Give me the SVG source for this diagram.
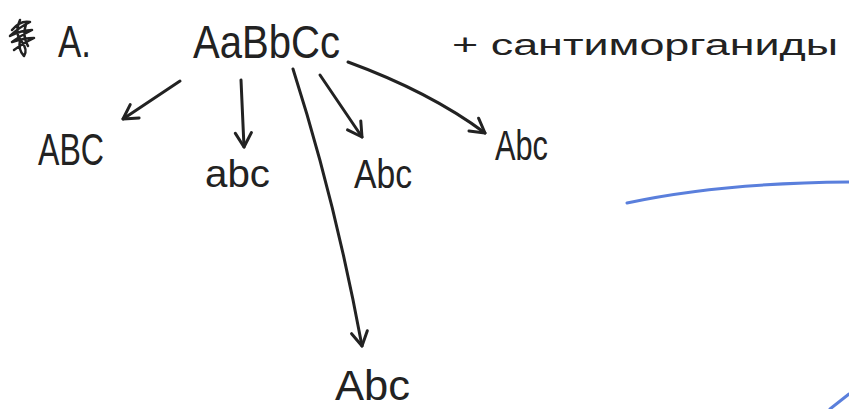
<svg xmlns="http://www.w3.org/2000/svg" width="849" height="409" viewBox="0 0 849 409">
<style>
.t{font-family:"Liberation Sans","DejaVu Sans",sans-serif;fill:#222;}
.c{fill:none;stroke:#222;stroke-width:3;stroke-linecap:round;stroke-linejoin:round;}
.b{fill:none;stroke:#5a7fdc;stroke-width:3;stroke-linecap:round;}
</style>
<defs>
<marker id="ah" viewBox="0 0 20 20" refX="18" refY="10" markerWidth="20" markerHeight="20" markerUnits="userSpaceOnUse" orient="auto">
<path d="M4 2 L18 10 L4 18" fill="none" stroke="#222" stroke-width="3" stroke-linecap="round" stroke-linejoin="round"/>
</marker>
</defs>
<rect width="849" height="409" fill="#fff"/>
<g id="title">
<path class="c" style="stroke-width:2.5" d="M12 30 Q20 20 30 22 Q18 28 10 36 Q22 30 32 30 Q20 36 12 42 Q24 38 34 38 Q22 44 14 50 M20 20 Q14 34 22 42 Q28 50 24 56 Q18 50 20 40 M26 24 Q22 36 28 46"/>
<text class="t" x="58" y="57" font-size="44" textLength="33" lengthAdjust="spacingAndGlyphs">A.</text>
</g>
<g id="root">
<text class="t" x="193" y="58" font-size="46" textLength="147" lengthAdjust="spacingAndGlyphs">AaBbCc</text>
</g>
<g id="note">
<text class="t" x="452" y="55" font-size="30" textLength="386" lengthAdjust="spacingAndGlyphs">+ сантиморганиды</text>
</g>
<g id="n1"><text class="t" x="38" y="165" font-size="44" textLength="66" lengthAdjust="spacingAndGlyphs">ABC</text></g>
<g id="n2"><text class="t" x="205" y="187" font-size="38" textLength="65" lengthAdjust="spacingAndGlyphs">abc</text></g>
<g id="n3"><text class="t" x="354" y="188" font-size="40" textLength="58" lengthAdjust="spacingAndGlyphs">Abc</text></g>
<g id="n4"><text class="t" x="495" y="160" font-size="42" textLength="53" lengthAdjust="spacingAndGlyphs">Abc</text></g>
<g id="n5"><text class="t" x="335" y="400" font-size="42" textLength="75" lengthAdjust="spacingAndGlyphs">Abc</text></g>
<g id="connectors">
<path class="c" d="M180 81 L123 119" marker-end="url(#ah)"/>
<path class="c" d="M241 80 L244 147" marker-end="url(#ah)"/>
<path class="c" d="M293 69 Q335 200 362 346" marker-end="url(#ah)"/>
<path class="c" d="M320 75 L362 137" marker-end="url(#ah)"/>
<path class="c" d="M348 62 Q430 92 485 133" marker-end="url(#ah)"/>
</g>
<g id="marks">
<path class="b" d="M627 203 Q720 183 849 182"/>
<path class="b" d="M830 409 L849 394"/>
</g>
</svg>
